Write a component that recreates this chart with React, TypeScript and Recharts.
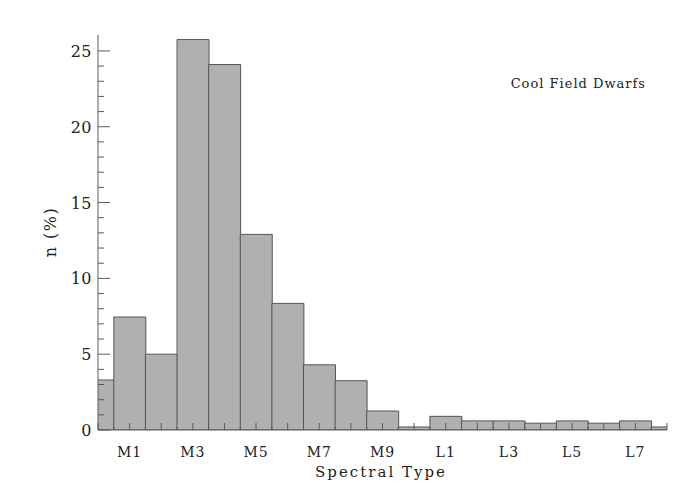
import React from 'react';
import { BarChart, Bar, XAxis, YAxis } from 'recharts';

const spectralTypes = ['M0', 'M1', 'M2', 'M3', 'M4', 'M5', 'M6', 'M7', 'M8', 'M9', 'L0', 'L1', 'L2', 'L3', 'L4', 'L5', 'L6', 'L7', 'L8'];
const typeIndex = [0, 1, 2, 3, 4, 5, 6, 7, 8, 9, 10, 11, 12, 13, 14, 15, 16, 17, 18];
const percentages = [3.3, 7.45, 5.0, 25.75, 24.1, 12.9, 8.35, 4.3, 3.25, 1.25, 0.2, 0.9, 0.6, 0.6, 0.45, 0.6, 0.45, 0.6, 0.2];
const labeledTypes = ['M1', 'M3', 'M5', 'M7', 'M9', 'L1', 'L3', 'L5', 'L7'];
const xTicks = [0, 0.5, 1, 1.5, 2, 2.5, 3, 3.5, 4, 4.5, 5, 5.5, 6, 6.5, 7, 7.5, 8, 8.5, 9, 9.5, 10, 10.5, 11, 11.5, 12, 12.5, 13, 13.5, 14, 14.5, 15, 15.5, 16, 16.5, 17, 17.5, 18];
const yTicks = [0, 1, 2, 3, 4, 5, 6, 7, 8, 9, 10, 11, 12, 13, 14, 15, 16, 17, 18, 19, 20, 21, 22, 23, 24, 25];
const yTickLabels = [0, 5, 10, 15, 20, 25];
const xDomain = [0, 18];
const yDomain = [0, 26.05];

const data = spectralTypes.map((t, i) => ({ idx: typeIndex[i], type: t, n: percentages[i] }));

const AXIS = '#5a5a5a';
const FONT = '"DejaVu Serif", serif';

const BottomTick = (props: any) => {
  const { x, y, payload } = props;
  const v = payload.value;
  const major = Number.isInteger(v);
  const name = major ? spectralTypes[v] : '';
  const show = labeledTypes.includes(name);
  return (
    <g>
      <line x1={x} x2={x} y1={y} y2={y - (major ? 7 : 3)} stroke={AXIS} strokeWidth={1} />
      {show && (
        <text x={x} y={y + 27} textAnchor="middle" fontFamily={FONT} fontSize={14} fill="#222" letterSpacing={1}>
          {name}
        </text>
      )}
    </g>
  );
};

const TopTick = (props: any) => {
  const { x, y, payload } = props;
  const major = Number.isInteger(payload.value);
  return <line x1={x} x2={x} y1={y} y2={y + (major ? 7 : 3)} stroke={AXIS} strokeWidth={1} />;
};

const LeftTick = (props: any) => {
  const { x, y, payload } = props;
  const v = payload.value;
  const major = yTickLabels.includes(v);
  return (
    <g>
      <line x1={x} x2={x + (major ? 12 : 6)} y1={y} y2={y} stroke={AXIS} strokeWidth={1} />
      {major && (
        <text x={x - 6} y={y + 6} textAnchor="end" fontFamily={FONT} fontSize={16} fill="#222" letterSpacing={0.5}>
          {v}
        </text>
      )}
    </g>
  );
};

const RightTick = (props: any) => {
  const { x, y, payload } = props;
  const major = yTickLabels.includes(payload.value);
  return <line x1={x} x2={x - (major ? 12 : 6)} y1={y} y2={y} stroke={AXIS} strokeWidth={1} />;
};

export default function App() {
  return (
    <div style={{ position: 'absolute', left: 0, top: 0, width: 700, height: 500, background: '#fff' }}>
      <BarChart
        width={700}
        height={500}
        data={data}
        margin={{ top: 35, right: 33, bottom: 30, left: 38 }}
        barCategoryGap={0}
        barGap={0}
      >
        <XAxis
          xAxisId="bottom"
          dataKey="idx"
          type="number"
          domain={xDomain}
          ticks={xTicks}
          interval={0}
          allowDataOverflow
          height={40}
          tickSize={0}
          tickMargin={0}
          tickLine={false}
          axisLine={{ stroke: AXIS }}
          tick={<BottomTick />}
        />
        <XAxis
          xAxisId="top"
          orientation="top"
          type="number"
          domain={xDomain}
          ticks={xTicks}
          interval={0}
          allowDataOverflow
          height={0}
          tickSize={0}
          tickMargin={0}
          tickLine={false}
          axisLine={{ stroke: AXIS }}
          tick={<TopTick />}
        />
        <YAxis
          yAxisId="left"
          type="number"
          domain={yDomain}
          ticks={yTicks}
          interval={0}
          allowDataOverflow
          width={60}
          tickSize={0}
          tickMargin={0}
          tickLine={false}
          axisLine={{ stroke: AXIS }}
          tick={<LeftTick />}
        />
        <YAxis
          yAxisId="right"
          orientation="right"
          type="number"
          domain={yDomain}
          ticks={yTicks}
          interval={0}
          allowDataOverflow
          width={0}
          tickSize={0}
          tickMargin={0}
          tickLine={false}
          axisLine={{ stroke: AXIS }}
          tick={<RightTick />}
        />
        <Bar
          xAxisId="bottom"
          yAxisId="left"
          dataKey="n"
          fill="#b0b0b0"
          stroke="#555"
          strokeWidth={1}
          isAnimationActive={false}
        />
        <text x={381} y={477} textAnchor="middle" fontFamily={FONT} fontSize={15} fill="#222" letterSpacing={2}>
          Spectral Type
        </text>
        <text
          x={56}
          y={232}
          textAnchor="middle"
          fontFamily={FONT}
          fontSize={16}
          fill="#222"
          letterSpacing={1.5}
          transform="rotate(-90 56 232)"
        >
          n (%)
        </text>
        <text x={646} y={88} textAnchor="end" fontFamily={FONT} fontSize={13} fill="#222" letterSpacing={1}>
          Cool Field Dwarfs
        </text>
      </BarChart>
    </div>
  );
}
